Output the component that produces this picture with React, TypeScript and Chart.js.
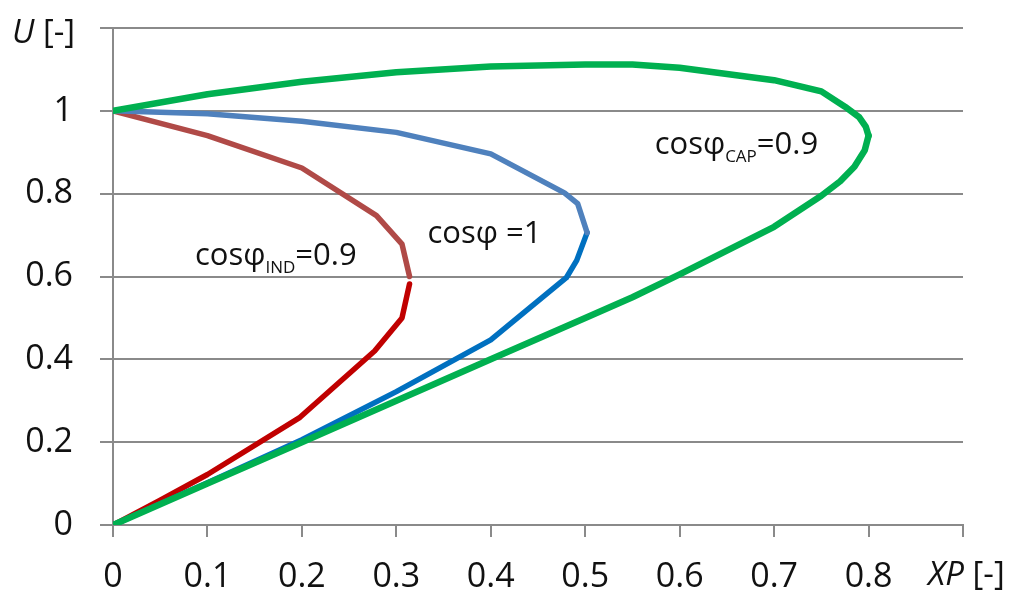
import React, { useEffect, useRef } from "react";
import { Chart, registerables } from "chart.js";

Chart.register(...registerables);

// ---- Data (XP, U) ----
const capUpperX = [0, 0.1, 0.2, 0.3, 0.4, 0.5, 0.55, 0.6, 0.7, 0.75, 0.775, 0.79, 0.797, 0.8];
const capUpperY = [1, 1.04, 1.07, 1.093, 1.107, 1.112, 1.112, 1.104, 1.074, 1.047, 1.01, 0.985, 0.962, 0.94];
const capLowerX = [0.8, 0.796, 0.785, 0.77, 0.75, 0.7, 0.6, 0.55, 0.5, 0.4, 0.3, 0.2, 0.1, 0];
const capLowerY = [0.94, 0.905, 0.865, 0.83, 0.795, 0.72, 0.605, 0.55, 0.5, 0.4, 0.3, 0.2, 0.1, 0];

const unityUpperX = [0, 0.1, 0.2, 0.3, 0.4, 0.478, 0.492, 0.502];
const unityUpperY = [1, 0.993, 0.975, 0.948, 0.896, 0.802, 0.776, 0.706];
const unityLowerX = [0.502, 0.491, 0.48, 0.4, 0.3, 0.2, 0.1, 0];
const unityLowerY = [0.706, 0.639, 0.597, 0.447, 0.322, 0.206, 0.102, 0];

const indUpperX = [0, 0.1, 0.2, 0.279, 0.306, 0.314];
const indUpperY = [1, 0.94, 0.862, 0.747, 0.678, 0.6];
const indLowerX = [0.314, 0.306, 0.277, 0.198, 0.1, 0.05, 0];
const indLowerY = [0.582, 0.5, 0.42, 0.26, 0.122, 0.06, 0];

const xTickLabels = ["0", "0.1", "0.2", "0.3", "0.4", "0.5", "0.6", "0.7", "0.8", ""];
const yTickLabels = ["0", "0.2", "0.4", "0.6", "0.8", "1", ""];

const xTitle = { main: "XP", rest: " [-]" };
const yTitle = { main: "U", rest: " [-]" };

// annotation anchors in data coordinates (left, baseline)
const annotations = [
  { x: 0.5735, y: 0.896, pre: "cosφ", sub: "CAP", post: "=0.9" },
  { x: 0.333, y: 0.68, pre: "cosφ =1", sub: "", post: "" },
  { x: 0.0868, y: 0.627, pre: "cosφ", sub: "IND", post: "=0.9" },
];

const toPts = (xs: number[], ys: number[]) => xs.map((x, i) => ({ x, y: ys[i] }));

const FONT = "'Open Sans', 'DejaVu Sans', sans-serif";
const GRID = "#8a8a8a";

const textPlugin = {
  id: "textPlugin",
  afterDraw(chart: any) {
    const ctx = chart.ctx;
    const xs = chart.scales.x;
    const ys = chart.scales.y;
    ctx.save();
    ctx.fillStyle = "#111";
    ctx.textBaseline = "alphabetic";
    ctx.textAlign = "left";
    for (const a of annotations) {
      let px = xs.getPixelForValue(a.x);
      const py = ys.getPixelForValue(a.y);
      ctx.font = `31px ${FONT}`;
      ctx.fillText(a.pre, px, py);
      px += ctx.measureText(a.pre).width;
      if (a.sub) {
        ctx.font = `17px ${FONT}`;
        ctx.fillText(a.sub, px, py + 8);
        px += ctx.measureText(a.sub).width;
      }
      if (a.post) {
        ctx.font = `31px ${FONT}`;
        ctx.fillText(a.post, px, py);
      }
    }
    const drawTitle = (t: { main: string; rest: string }, x: number, y: number) => {
      ctx.font = `italic 33px ${FONT}`;
      ctx.fillText(t.main, x, y);
      const w = ctx.measureText(t.main).width;
      ctx.font = `33px ${FONT}`;
      ctx.fillText(t.rest, x + w, y);
    };
    drawTitle(yTitle, 12, 43);
    drawTitle(xTitle, 928, 585);
    ctx.restore();
  },
};

export default function App() {
  const ref = useRef<HTMLCanvasElement>(null);
  useEffect(() => {
    if (!ref.current) return;
    const line = (data: any, color: string, order: number, width = 5.5) => ({
      data,
      borderColor: color,
      backgroundColor: color,
      borderWidth: width,
      showLine: true,
      pointRadius: 0,
      tension: 0,
      fill: false,
      order,
      borderJoinStyle: "round",
      borderCapStyle: "round",
    });
    const chart = new Chart(ref.current, {
      type: "scatter",
      data: {
        datasets: [
          line(toPts(capUpperX, capUpperY), "#00B050", 0, 6.5),
          line(toPts(capLowerX, capLowerY), "#00B050", 0, 6.5),
          line(toPts(unityUpperX, unityUpperY), "#4F81BD", 1),
          line(toPts(unityLowerX, unityLowerY), "#0070C0", 1),
          line(toPts(indUpperX, indUpperY), "#B04A47", 2),
          line(toPts(indLowerX, indLowerY), "#C00000", 2),
        ] as any,
      },
      options: {
        animation: false,
        responsive: false,
        layout: { padding: { top: 28, right: 57, left: 0, bottom: 0 } },
        plugins: { legend: { display: false }, tooltip: { enabled: false } },
        scales: {
          x: {
            type: "linear",
            min: 0,
            max: 0.9,
            afterFit: (s: any) => {
              s.height = 69;
              s.paddingLeft = 0;
              s.paddingRight = 0;
            },
            grid: { drawOnChartArea: false, drawTicks: true, tickLength: 12, color: GRID, lineWidth: 2 },
            border: { color: GRID, width: 2 },
            ticks: {
              stepSize: 0.1,
              padding: 20,
              color: "#111",
              font: { family: FONT, size: 34 },
              maxRotation: 0,
              autoSkip: false,
              callback: (_v: any, i: number) => xTickLabels[i],
            },
          },
          y: {
            type: "linear",
            min: 0,
            max: 1.2,
            afterFit: (s: any) => {
              s.width = 113;
              s.paddingTop = 0;
              s.paddingBottom = 0;
            },
            grid: { drawOnChartArea: true, drawTicks: true, tickLength: 13, color: GRID, lineWidth: 2 },
            border: { color: GRID, width: 2 },
            ticks: {
              stepSize: 0.2,
              padding: 27,
              color: "#111",
              font: { family: FONT, size: 34 },
              autoSkip: false,
              callback: (_v: any, i: number) => yTickLabels[i],
            },
          },
        },
      } as any,
      plugins: [textPlugin],
    });
    return () => chart.destroy();
  }, []);
  return (
    <div style={{ position: "absolute", left: 0, top: 0, width: 1020, height: 594, background: "#fff" }}>
      <canvas ref={ref} width={1020} height={594} style={{ display: "block" }} />
    </div>
  );
}
